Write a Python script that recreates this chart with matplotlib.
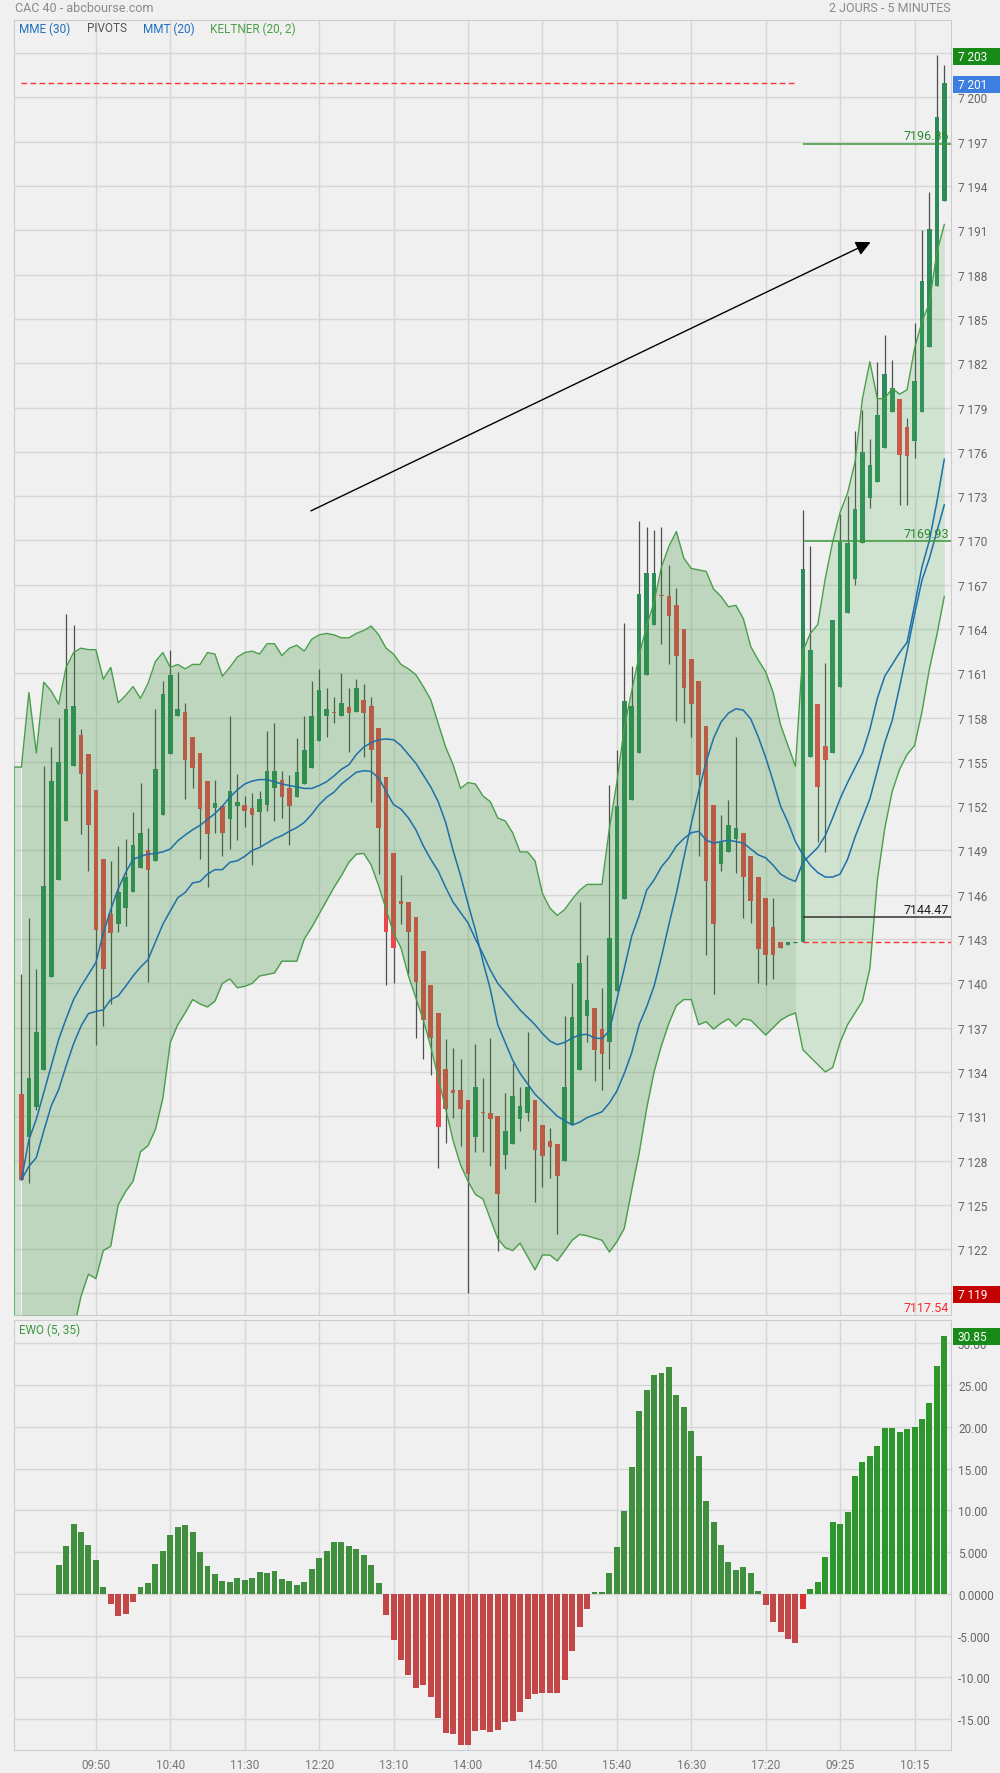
import numpy as np
import matplotlib
matplotlib.use("Agg")
import matplotlib.pyplot as plt
from matplotlib.patches import Rectangle
from matplotlib.transforms import blended_transform_factory

plt.rcParams['font.family'] = ['Roboto', 'DejaVu Sans']

# --- candles (5 min), day 1 = index 0..104, day 2 = 105..124 ---
opens = [7132.5, 7129.6, 7131.6, 7134.1, 7140.4, 7147.0, 7151.0, 7154.7, 7156.8, 7155.5,
         7153.1, 7148.4, 7144.7, 7144.0, 7145.1, 7146.2, 7147.8, 7149.0, 7148.3, 7151.4,
         7155.5, 7158.1, 7158.4, 7156.7, 7155.6, 7153.7, 7151.9, 7152.0, 7151.1, 7152.0,
         7152.1, 7151.9, 7151.6, 7152.1, 7153.2, 7153.8, 7153.2, 7152.6, 7153.5, 7154.6,
         7156.4, 7158.1, 7158.4, 7158.1, 7158.7, 7158.4, 7159.2, 7158.8, 7157.3, 7154.0,
         7148.8, 7145.6, 7145.5, 7144.5, 7142.2, 7139.9, 7138.0, 7134.2, 7132.8, 7132.8,
         7132.1, 7129.6, 7131.3, 7131.25, 7131.0, 7128.4, 7129.1, 7130.8, 7131.25, 7132.1,
         7130.4, 7129.3, 7129.1, 7128.0, 7130.5, 7134.1, 7137.8, 7138.3, 7136.9, 7136.0,
         7139.5, 7145.7, 7152.4, 7155.6, 7160.9, 7164.3, 7166.25, 7166.2, 7165.6, 7164.0,
         7162.0, 7160.5, 7157.4, 7152.1, 7148.1, 7148.9, 7149.8, 7150.15, 7148.6, 7147.2,
         7145.8, 7143.8, 7142.8, 7142.6, 7142.7, 7142.8, 7155.3, 7158.9, 7156.1, 7155.6,
         7160.1, 7165.05, 7167.4, 7169.8, 7172.9, 7173.95, 7176.25, 7178.7, 7179.6, 7177.7,
         7176.7, 7178.7, 7183.1, 7187.2, 7193.0]
highs = [7140.6, 7144.4, 7141.0, 7154.7, 7156.0, 7158.0, 7165.0, 7164.3, 7157.2, 7155.5,
         7153.1, 7148.4, 7148.3, 7149.3, 7149.8, 7151.6, 7153.6, 7150.5, 7158.6, 7160.5,
         7162.6, 7161.1, 7159.0, 7156.7, 7155.6, 7153.7, 7153.8, 7152.0, 7158.1, 7154.2,
         7152.7, 7152.9, 7153.0, 7157.1, 7157.6, 7154.4, 7154.1, 7156.6, 7158.1, 7160.5,
         7161.3, 7160.0, 7159.4, 7161.0, 7160.0, 7160.6, 7160.3, 7159.4, 7157.3, 7154.0,
         7148.8, 7147.35, 7145.5, 7144.5, 7142.2, 7139.9, 7138.0, 7136.2, 7135.6, 7134.9,
         7132.1, 7135.9, 7133.6, 7136.3, 7131.0, 7132.6, 7134.6, 7133.0, 7136.7, 7132.1,
         7130.4, 7130.2, 7129.1, 7137.8, 7140.0, 7145.5, 7141.9, 7138.3, 7139.7, 7153.4,
         7155.8, 7164.4, 7161.5, 7171.3, 7170.9, 7170.7, 7170.9, 7168.3, 7166.8, 7164.0,
         7162.0, 7160.5, 7157.4, 7152.1, 7151.4, 7152.4, 7156.7, 7150.15, 7148.6, 7147.2,
         7145.8, 7145.8, 7142.8, 7142.8, 7142.8, 7172.05, 7169.6, 7158.9, 7161.7, 7164.6,
         7171.8, 7173.0, 7177.4, 7178.8, 7176.9, 7182.1, 7183.9, 7182.2, 7179.6, 7178.3,
         7184.7, 7191.0, 7193.6, 7202.9, 7202.2]
lows = [7126.7, 7126.5, 7131.4, 7134.1, 7140.4, 7147.0, 7151.0, 7154.7, 7150.1, 7147.6,
        7135.8, 7137.1, 7138.6, 7143.5, 7143.9, 7146.2, 7147.8, 7140.1, 7148.3, 7151.4,
        7155.5, 7158.1, 7152.5, 7153.2, 7148.4, 7146.5, 7150.2, 7148.6, 7149.1, 7149.7,
        7150.6, 7148.0, 7149.3, 7151.7, 7151.0, 7151.2, 7149.4, 7152.6, 7153.5, 7154.6,
        7156.4, 7156.7, 7157.6, 7158.1, 7155.7, 7158.4, 7155.3, 7152.3, 7147.4, 7139.9,
        7140.0, 7144.0, 7140.6, 7136.3, 7134.9, 7133.8, 7127.5, 7129.2, 7130.9, 7129.0,
        7119.05, 7128.6, 7128.6, 7127.6, 7121.9, 7127.4, 7129.1, 7130.0, 7130.7, 7125.2,
        7126.2, 7126.8, 7123.0, 7128.0, 7130.5, 7134.1, 7136.0, 7133.4, 7132.8, 7134.2,
        7139.5, 7145.7, 7152.4, 7155.6, 7160.9, 7164.3, 7163.0, 7161.6, 7157.8, 7157.6,
        7156.7, 7148.6, 7141.9, 7139.3, 7147.6, 7148.9, 7147.5, 7144.4, 7144.1, 7140.0,
        7139.9, 7140.3, 7142.4, 7142.6, 7142.7, 7142.8, 7155.3, 7149.6, 7148.9, 7155.6,
        7160.1, 7165.05, 7167.0, 7169.8, 7172.2, 7173.95, 7176.25, 7178.7, 7172.4, 7172.4,
        7175.6, 7178.7, 7183.1, 7187.2, 7193.0]
closes = [7126.7, 7133.6, 7136.7, 7146.6, 7153.7, 7155.0, 7158.6, 7158.8, 7154.2, 7150.7,
          7143.6, 7141.0, 7143.4, 7146.2, 7147.2, 7149.4, 7150.2, 7147.7, 7154.5, 7159.6,
          7160.9, 7158.6, 7155.1, 7154.6, 7151.8, 7150.1, 7152.2, 7150.2, 7153.0, 7152.3,
          7151.7, 7151.4, 7152.5, 7154.4, 7154.4, 7152.6, 7152.0, 7154.3, 7155.8, 7158.1,
          7159.9, 7158.6, 7158.3, 7159.0, 7158.3, 7160.0, 7158.3, 7155.8, 7150.5, 7143.5,
          7142.4, 7145.4, 7143.5, 7140.1, 7137.5, 7136.3, 7130.3, 7131.5, 7132.6, 7131.5,
          7127.1, 7133.0, 7131.2, 7130.8, 7125.7, 7130.0, 7132.4, 7131.7, 7133.0, 7128.7,
          7128.3, 7128.9, 7126.95, 7133.0, 7137.7, 7141.4, 7138.9, 7135.5, 7135.2, 7143.1,
          7152.0, 7159.1, 7158.8, 7166.4, 7167.8, 7167.8, 7166.2, 7164.9, 7162.2, 7160.0,
          7158.9, 7154.1, 7146.9, 7144.0, 7149.6, 7150.7, 7150.5, 7147.2, 7145.6, 7142.3,
          7141.9, 7141.9, 7142.4, 7142.8, 7142.8, 7168.05, 7162.6, 7153.3, 7155.1, 7164.6,
          7169.9, 7169.8, 7172.1, 7176.0, 7175.1, 7178.5, 7181.3, 7180.3, 7175.8, 7175.7,
          7180.8, 7187.6, 7191.1, 7198.7, 7201.0]

# moving averages (index 0..124)
mmt_line = [7126.7, 7129.4, 7130.8, 7132.6, 7134.4, 7136.2, 7137.6, 7138.9, 7139.8, 7140.6,
            7141.4, 7143.4, 7145.0, 7146.4, 7147.5, 7148.4, 7148.6, 7148.75, 7148.8, 7148.9,
            7149.1, 7149.65, 7150.05, 7150.4, 7150.7, 7151.1, 7151.5, 7152.0, 7152.6, 7153.1,
            7153.5, 7153.7, 7153.8, 7153.8, 7153.65, 7153.5, 7153.4, 7153.3, 7153.2, 7153.2,
            7153.4, 7153.65, 7154.05, 7154.5, 7154.8, 7155.5, 7156.0, 7156.3, 7156.5, 7156.55,
            7156.5, 7156.1, 7155.5, 7154.9, 7154.1, 7153.3, 7152.3, 7150.9, 7149.0, 7147.3,
            7145.4, 7143.6, 7141.5, 7139.6, 7137.2, 7136.0, 7134.8, 7133.9, 7133.2, 7132.5,
            7132.0, 7131.5, 7131.0, 7130.7, 7130.4, 7130.6, 7130.9, 7131.1, 7131.3, 7131.9,
            7132.7, 7133.9, 7135.3, 7137.2, 7138.4, 7139.8, 7141.8, 7144.0, 7146.1, 7148.5,
            7150.8, 7153.0, 7155.0, 7156.6, 7157.7, 7158.3, 7158.6, 7158.5, 7157.9, 7156.7,
            7155.3, 7153.7, 7152.0, 7150.9, 7149.6, 7148.7, 7148.0, 7147.5, 7147.2, 7147.2,
            7147.4, 7148.4, 7149.9, 7151.2, 7152.5, 7154.4, 7156.3, 7157.8, 7160.1, 7162.5,
            7165.0, 7167.3, 7168.8, 7170.6, 7172.4]
mme_line = [7126.7, 7127.6, 7128.2, 7130.0, 7131.7, 7132.8, 7134.4, 7135.9, 7137.1, 7137.95,
            7138.1, 7138.2, 7138.9, 7139.15, 7139.8, 7140.5, 7141.1, 7141.6, 7142.8, 7144.0,
            7144.9, 7145.8, 7146.15, 7146.8, 7146.9, 7147.4, 7147.7, 7147.7, 7148.2, 7148.3,
            7148.6, 7149.0, 7149.2, 7149.5, 7149.8, 7150.0, 7150.3, 7150.55, 7150.9, 7151.45,
            7152.1, 7152.6, 7152.95, 7153.5, 7153.9, 7154.3, 7154.4, 7154.35, 7153.9, 7153.0,
            7152.1, 7151.8, 7151.2, 7150.4, 7149.3, 7148.4, 7147.6, 7146.5, 7145.5, 7144.8,
            7144.1, 7143.0, 7142.0, 7140.9, 7140.0, 7139.4, 7138.8, 7138.2, 7137.7, 7137.2,
            7136.6, 7136.1, 7135.85, 7136.0, 7136.3, 7136.5, 7136.55, 7136.3, 7136.25, 7136.8,
            7138.9, 7141.0, 7143.2, 7144.6, 7146.3, 7147.0, 7147.9, 7148.5, 7149.3, 7149.8,
            7150.2, 7150.3, 7149.7, 7149.5, 7149.6, 7149.7, 7149.6, 7149.5, 7149.1, 7148.7,
            7148.5, 7148.0, 7147.4, 7147.1, 7146.9, 7148.2, 7148.7, 7149.2, 7150.0, 7151.2,
            7152.5, 7153.6, 7154.6, 7155.6, 7157.2, 7159.3, 7160.8, 7161.6, 7162.4, 7163.1,
            7165.6, 7168.2, 7170.0, 7172.6, 7175.5]

# Keltner (20, 2), index -1..124
kelt_up = [7154.65, 7154.65, 7159.7, 7155.6, 7160.4, 7159.8, 7158.9, 7161.4, 7162.4, 7162.7,
           7162.6, 7162.6, 7160.6, 7161.4, 7159.0, 7159.5, 7160.1, 7159.3, 7160.3, 7161.8,
           7162.4, 7161.4, 7161.6, 7161.3, 7161.6, 7161.6, 7162.4, 7162.3, 7160.8, 7161.4,
           7162.1, 7162.4, 7162.5, 7162.3, 7163.0, 7163.0, 7162.2, 7162.7, 7162.9, 7162.5,
           7163.3, 7163.6, 7163.7, 7163.6, 7163.4, 7163.4, 7163.7, 7163.9, 7164.2, 7163.6,
           7162.7, 7162.3, 7161.6, 7161.3, 7160.9, 7160.1, 7159.2, 7157.6, 7156.0, 7154.8,
           7153.2, 7153.6, 7153.5, 7152.7, 7152.3, 7151.2, 7151.0, 7150.2, 7148.9, 7148.9,
           7148.3, 7146.1, 7145.1, 7144.6, 7145.0, 7145.7, 7146.3, 7146.7, 7146.7, 7146.7,
           7150.5, 7153.6, 7157.3, 7159.8, 7162.2, 7164.2, 7165.8, 7168.2, 7169.6, 7170.6,
           7168.8, 7168.1, 7168.0, 7167.9, 7166.7, 7166.2, 7165.5, 7165.6, 7164.7, 7162.8,
           7161.9, 7161.1, 7159.7, 7157.5, 7156.1, 7154.7, 7162.5, 7163.7, 7164.3, 7167.4,
           7169.9, 7171.9, 7173.2, 7175.3, 7179.6, 7182.1, 7179.6, 7179.6, 7180.3, 7179.9,
           7180.2, 7183.0, 7184.8, 7186.1, 7189.5, 7191.4]
kelt_dn = [7098.0, 7098.0, 7101.0, 7104.0, 7106.5, 7109.0, 7111.5, 7114.0, 7116.5, 7118.8,
           7120.3, 7120.0, 7121.9, 7122.2, 7125.0, 7125.9, 7126.6, 7128.6, 7129.0, 7130.1,
           7132.2, 7136.0, 7137.2, 7138.0, 7138.9, 7138.6, 7138.4, 7138.8, 7140.0, 7140.3,
           7139.7, 7139.8, 7140.0, 7140.5, 7140.6, 7140.7, 7141.5, 7141.5, 7141.5, 7143.0,
           7143.8, 7144.7, 7145.6, 7146.5, 7147.3, 7148.2, 7148.75, 7148.8, 7148.0, 7146.6,
           7145.0, 7143.4, 7142.4, 7140.5, 7139.0, 7137.5, 7135.7, 7133.6, 7131.5, 7129.35,
           7127.7, 7126.6, 7125.7, 7125.4, 7124.05, 7122.7, 7122.1, 7121.9, 7122.4, 7121.5,
           7120.6, 7121.6, 7121.6, 7121.2, 7121.9, 7122.6, 7123.0, 7122.9, 7122.75, 7122.6,
           7121.8, 7122.5, 7123.4, 7126.0, 7128.5, 7131.5, 7134.0, 7135.8, 7137.3, 7138.5,
           7138.9, 7138.9, 7137.2, 7137.4, 7136.9, 7137.3, 7137.6, 7137.1, 7137.6, 7137.5,
           7137.0, 7136.5, 7137.0, 7137.5, 7137.8, 7138.0, 7135.5, 7135.0, 7134.5, 7134.0,
           7134.3, 7136.0, 7137.2, 7138.0, 7138.8, 7141.0, 7147.0, 7150.5, 7153.0, 7154.5,
           7155.5, 7156.1, 7158.4, 7161.3, 7163.6, 7166.2]

# EWO (5, 35), index 5..124
ewo = [3.47, 5.74, 8.38, 7.42, 5.86, 4.07, 0.84, -1.16, -2.6, -2.47,
       -0.92, 0.84, 1.32, 3.59, 5.15, 7.06, 8.02, 8.26, 7.42, 5.03,
       3.35, 2.39, 1.56, 1.44, 1.91, 1.68, 1.91, 2.63, 2.51, 2.75,
       1.80, 1.56, 1.08, 1.44, 2.99, 4.31, 5.15, 6.22, 6.22, 5.74,
       5.38, 4.67, 3.47, 1.32, -2.51, -5.50, -7.98, -9.77, -11.33, -10.97,
       -12.41, -14.92, -16.71, -16.83, -18.15, -18.15, -16.47, -16.35, -16.59, -16.35,
       -15.40, -15.28, -14.20, -12.64, -12.05, -11.93, -11.93, -11.93, -10.37, -6.90,
       -4.03, -1.76, 0.24, 0.24, 2.51, 5.62, 9.93, 15.20, 21.90, 24.41,
       26.21, 26.45, 27.16, 23.81, 22.38, 19.51, 16.51, 11.13, 8.62, 5.86,
       3.83, 2.87, 3.23, 2.51, 0.36, -1.28, -3.43, -4.51, -5.46, -5.94,
       -1.87, 0.60, 1.44, 4.43, 8.62, 8.38, 9.81, 14.12, 15.80, 16.51,
       17.71, 19.86, 19.86, 19.39, 19.74, 19.98, 20.94, 22.86, 27.28, 30.85]

time_labels = ['09:50', '10:40', '11:30', '12:20', '13:10', '14:00',
               '14:50', '15:40', '16:30', '17:20', '09:25', '10:15']
ewo_ticks = [30, 25, 20, 15, 10, 5, 0, -5, -10, -15]
ewo_tick_labels = ['30.00', '25.00', '20.00', '15.00', '10.00', '5.000',
                   '0.0000', '-5.000', '-10.00', '-15.00']

# pivots
prev_close_d1 = 7201.0
prev_close_d2 = 7142.8
pivot_levels = [7196.86, 7169.93]
pivot_s = 7144.47
pivot_low = 7117.54

day2_start = 105
n = len(opens)
x = np.arange(n)
xb = np.arange(-1, n)

BG = '#f0f0f0'
GRID = '#d6d6d6'

fig = plt.figure(figsize=(10, 17.74), dpi=100, facecolor=BG)
ax = fig.add_axes([0.014, 0.2582, 0.937, 0.7300], facecolor=BG)
ax2 = fig.add_axes([0.014, 0.01297, 0.937, 0.2424], facecolor=BG)

# ---- candles ----
o = np.array(opens); c = np.array(closes)
up = c >= o
body_col = np.where(up, '#2e8b57', '#e8474b')
ax.vlines(x, lows, highs, color='#4f4f4f', lw=0.9, zorder=2)
ax.bar(x, np.maximum(np.abs(c - o), 0.1), bottom=np.minimum(o, c), width=0.62,
       color=body_col, zorder=2.5)

# ---- keltner band drawn over the candles ----
up_b = np.array(kelt_up); dn_b = np.array(kelt_dn)
d1 = (xb >= 0) & (xb <= day2_start - 1)
ax.fill_between(xb[d1], dn_b[d1], up_b[d1], color=(60/255, 150/255, 60/255),
                alpha=0.28, lw=0, zorder=3)
for m in [(xb <= 0), (xb >= day2_start - 1)]:
    ax.fill_between(xb[m], dn_b[m], up_b[m], color='#4caf50', alpha=0.2, lw=0, zorder=3)
ax.plot(xb, up_b, color='#4a9e4a', lw=1.0, zorder=4)
ax.plot(xb, dn_b, color='#4a9e4a', lw=1.0, zorder=4)
ax.vlines(-1, kelt_dn[0], kelt_up[0], color='#6cb46c', lw=1.5, zorder=4)

# ---- moving averages ----
ax.plot(x, mme_line, color='#1f6fa8', lw=1.1, zorder=5)
ax.plot(x, mmt_line, color='#1f6fa8', lw=1.1, zorder=5)

# ---- pivots ----
x_end = 124.9
ax.hlines(prev_close_d1, 0, day2_start - 1, colors='#ff3030', lw=1,
          linestyles=(0, (4, 2.5)), zorder=6)
ax.hlines(prev_close_d2, day2_start, x_end, colors='#ff3030', lw=1,
          linestyles=(0, (4, 2.5)), zorder=6)
for lvl in pivot_levels:
    ax.hlines(lvl, day2_start, x_end, colors='#3c9a3c', lw=1.1, zorder=6)
    ax.text(124.6, lvl + 0.1, f'{lvl:.2f}', color='#2a8a2a', fontsize=9,
            ha='right', va='bottom', zorder=7)
ax.hlines(pivot_s, day2_start, x_end, colors='#333333', lw=1.1, zorder=6)
ax.text(124.6, pivot_s + 0.1, f'{pivot_s:.2f}', color='#222222', fontsize=9,
        ha='right', va='bottom', zorder=7)
ax.text(124.6, 7117.62, f'{pivot_low:.2f}', color='#ff2a2a', fontsize=9,
        ha='right', va='bottom', zorder=7)

# trend arrow
ax.annotate('', xy=(114.1, 7190.2), xytext=(38.9, 7172.0),
            arrowprops=dict(arrowstyle='-|>', color='black', lw=1.0,
                            mutation_scale=22, shrinkA=0, shrinkB=0), zorder=8)

# ---- axes styling main ----
ax.set_xlim(-1, x_end)
ax.set_ylim(pivot_low, 7205.25)
ax.set_xticks(range(10, 121, 10))
ax.set_xticklabels([])
ax.set_yticks(np.arange(7119, 7204, 3))
ax.yaxis.tick_right()
ax.set_yticklabels([f'{v:,}'.replace(',', ' ') for v in range(7119, 7204, 3)])
ax.tick_params(length=0, labelsize=8.5, labelcolor='#666666', pad=5)
ax.grid(True, color=GRID, lw=1)
ax.set_axisbelow(True)
for s in ax.spines.values():
    s.set_color('#cccccc')

trans = blended_transform_factory(ax.transAxes, ax.transData)


def value_box(axis, tr, val, txt, fc, h):
    axis.add_patch(Rectangle((1.002, val - h / 2), 0.055, h, transform=tr, fc=fc,
                             ec='none', clip_on=False, zorder=10))
    axis.text(1.007, val, txt, transform=tr, color='white', fontsize=8.5,
              va='center', ha='left', clip_on=False, zorder=11)


value_box(ax, trans, 7202.8, '7 203', '#178a17', 1.15)
value_box(ax, trans, 7200.9, '7 201', '#3d7fe0', 1.15)
value_box(ax, trans, 7118.9, '7 119', '#c40000', 1.15)

# ---- EWO panel ----
xe = np.arange(5, n)
ev = np.array(ewo)
cols = []
for xi, v in zip(xe, ev):
    if xi < day2_start:
        cols.append('#3f8f3f' if v >= 0 else '#c34747')
    else:
        cols.append('#2d962d' if v >= 0 else '#d93232')
ax2.bar(xe, ev, width=0.8, color=cols, zorder=3)
ax2.set_xlim(-1, x_end)
ax2.set_ylim(-18.7, 32.8)
ax2.set_xticks(range(10, 121, 10))
ax2.set_xticklabels(time_labels)
ax2.set_yticks(ewo_ticks)
ax2.set_yticklabels(ewo_tick_labels)
ax2.yaxis.tick_right()
ax2.tick_params(length=0, labelsize=8.5, labelcolor='#666666', pad=5)
ax2.tick_params(axis='x', pad=6, labelcolor='#777777')
ax2.grid(True, color=GRID, lw=1)
ax2.set_axisbelow(True)
for s in ax2.spines.values():
    s.set_color('#cccccc')
ax2.text(0.005, 0.979, 'EWO (5, 35)', transform=ax2.transAxes, color='#3a9a3a',
         fontsize=8.5, va='center', ha='left')
trans2 = blended_transform_factory(ax2.transAxes, ax2.transData)
value_box(ax2, trans2, 30.85, '30.85', '#178a17', 2.03)

# ---- header ----
fig.text(0.015, 1 - 8.5 / 1774, 'CAC 40 - abcbourse.com', color='#8a8a8a',
         fontsize=9, va='center')
fig.text(0.951, 1 - 8.5 / 1774, '2 JOURS - 5 MINUTES', color='#8a8a8a',
         fontsize=9, va='center', ha='right')
ylg = 1 - 29 / 1774
fig.text(0.019, ylg, 'MME (30)', color='#1f6fc0', fontsize=8.5, va='center')
fig.text(0.087, ylg, 'PIVOTS', color='#555555', fontsize=8.5, va='center')
fig.text(0.143, ylg, 'MMT (20)', color='#1f6fc0', fontsize=8.5, va='center')
fig.text(0.210, ylg, 'KELTNER (20, 2)', color='#4aa04a', fontsize=8.5, va='center')

fig.savefig('out.png', dpi=100, facecolor=BG)
